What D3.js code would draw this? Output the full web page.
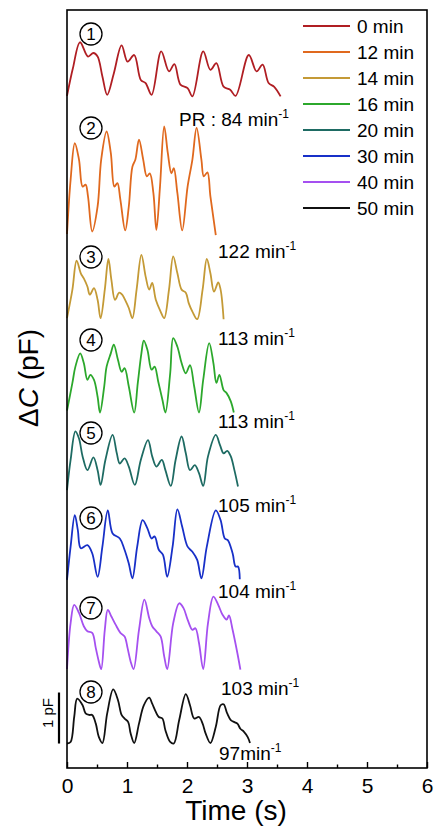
<!DOCTYPE html>
<html>
<head>
<meta charset="utf-8">
<script src="https://cdn.jsdelivr.net/npm/d3@7"></script>
<style>
  body { margin: 0; background: #fff; }
  text { font-family: Arial, "Liberation Sans", sans-serif; fill: #000; }
</style>
</head>
<body>
<svg id="chart" width="436" height="829"></svg>
<script>
// legend names + colours
var names = ["0 min", "12 min", "14 min", "16 min", "20 min", "30 min", "40 min", "50 min"];
var colors = ["#B01E23", "#E0691E", "#C49A36", "#2CA82C", "#1E6B63", "#1830C8", "#A550F0", "#111111"];
// vertical offset of every trace (pF)
var offsets = [13.18, 10.52, 8.82, 6.97, 5.53, 3.72, 1.94, 0.48];
var rates = ["PR : 84 min", "122 min", "113 min", "113 min", "105 min", "104 min", "103 min", "97min"];
var xTicks = [0, 1, 2, 3, 4, 5, 6];
var xMinor = [0.5, 1.5, 2.5, 3.5, 4.5, 5.5];

// traces, time (s) and deltaC (pF) above the trace baseline
var t1 = [0, 0.1, 0.217, 0.35, 0.44, 0.51, 0.59, 0.67, 0.78, 0.91, 1.01, 1.12, 1.23, 1.31, 1.41, 1.57, 1.70, 1.79, 1.89, 2.01, 2.09, 2.27, 2.39, 2.49, 2.61, 2.72, 2.81, 3.03, 3.16, 3.26, 3.36, 3.45, 3.56];
var v1 = [0, 0.55, 1.05, 0.77, 0.84, 0.77, 0.38, 0.02, 0.44, 0.99, 0.67, 0.80, 0.31, 0.25, 0.02, 0.87, 0.48, 0.62, 0.22, 0.15, -0.01, 0.87, 0.51, 0.64, 0.18, 0.12, 0, 0.80, 0.48, 0.61, 0.25, 0.18, -0.01];

var t2 = [0, 0.06, 0.13, 0.20, 0.26, 0.31, 0.35, 0.42, 0.51, 0.57, 0.66, 0.73, 0.79, 0.84, 0.89, 0.97, 1.03, 1.09, 1.14, 1.20, 1.27, 1.33, 1.38, 1.44, 1.49, 1.55, 1.62, 1.68, 1.74, 1.78, 1.84, 1.92, 2.01, 2.09, 2.16, 2.24, 2.28, 2.34, 2.39, 2.48];
var v2 = [-0.05, 1.01, 1.73, 1.41, 0.88, 0.92, 0.69, 0, 0.49, 1.41, 1.96, 1.54, 0.88, 0.95, 0.62, 0.02, 0.49, 1.27, 1.41, 1.80, 1.41, 1.08, 1.14, 0.75, 0.03, 0.88, 2.06, 1.54, 1.14, 1.24, 0.75, 0.02, 0.88, 1.41, 2.03, 1.41, 1.08, 1.16, 0.69, -0.07];

var t3 = [0, 0.09, 0.16, 0.23, 0.28, 0.34, 0.38, 0.45, 0.51, 0.56, 0.63, 0.69, 0.74, 0.80, 0.87, 0.92, 0.98, 1.03, 1.09, 1.16, 1.24, 1.31, 1.37, 1.42, 1.48, 1.56, 1.62, 1.70, 1.77, 1.84, 1.91, 1.98, 2.03, 2.09, 2.17, 2.26, 2.33, 2.39, 2.45, 2.52, 2.56, 2.61];
var v3 = [0, 0.56, 1.13, 0.88, 0.78, 0.62, 0.46, 0.59, 0.36, 0, 0.56, 1.16, 0.75, 0.36, 0.50, 0.46, 0.33, 0.20, 0, 0.56, 1.24, 0.82, 0.56, 0.69, 0.36, 0.13, 0, 0.56, 1.21, 0.88, 0.56, 0.50, 0.29, 0.13, -0.02, 0.56, 1.16, 0.88, 0.52, 0.70, 0.56, -0.02];

var t4 = [0, 0.09, 0.14, 0.22, 0.28, 0.34, 0.39, 0.45, 0.51, 0.55, 0.62, 0.66, 0.73, 0.78, 0.85, 0.91, 0.96, 1.03, 1.12, 1.18, 1.24, 1.28, 1.34, 1.41, 1.46, 1.52, 1.59, 1.64, 1.72, 1.77, 1.84, 1.91, 1.98, 2.05, 2.12, 2.20, 2.27, 2.37, 2.44, 2.49, 2.54, 2.61, 2.66, 2.73, 2.78];
var v4 = [0.04, 0.58, 0.90, 1.16, 0.97, 0.64, 0.74, 0.64, 0.31, 0, 0.51, 0.90, 1.16, 1.33, 1.03, 0.80, 0.87, 0.51, 0, 0.58, 1.16, 1.41, 1.23, 0.84, 0.90, 0.61, 0.25, 0, 0.77, 1.46, 1.29, 0.97, 0.77, 0.93, 0.51, 0, 0.64, 1.36, 0.97, 0.58, 0.74, 0.44, 0.38, 0.22, 0];

var t5 = [0, 0.06, 0.14, 0.20, 0.26, 0.34, 0.44, 0.51, 0.56, 0.64, 0.76, 0.83, 0.88, 0.96, 1.03, 1.13, 1.23, 1.35, 1.42, 1.49, 1.58, 1.64, 1.73, 1.81, 1.91, 1.98, 2.05, 2.13, 2.20, 2.27, 2.35, 2.48, 2.55, 2.61, 2.67, 2.73, 2.79, 2.85];
var v5 = [-0.08, 0.51, 1.07, 0.93, 0.58, 0.31, 0.56, 0.31, 0.02, 0.51, 1.00, 0.64, 0.44, 0.54, 0.38, 0.02, 0.51, 0.90, 0.58, 0.38, 0.51, 0.31, 0, 0.51, 0.97, 0.64, 0.31, 0.41, 0.25, 0, 0.58, 1.00, 0.80, 0.64, 0.69, 0.58, 0.31, -0.01];

var t6 = [0, 0.06, 0.13, 0.18, 0.23, 0.34, 0.42, 0.51, 0.59, 0.68, 0.76, 0.88, 0.95, 1.03, 1.09, 1.17, 1.26, 1.34, 1.41, 1.46, 1.53, 1.60, 1.67, 1.76, 1.84, 1.92, 2.01, 2.09, 2.17, 2.24, 2.33, 2.48, 2.56, 2.63, 2.68, 2.76, 2.81, 2.85, 2.88];
var v6 = [-0.03, 0.62, 1.24, 0.95, 0.59, 0.65, 0.49, 0.03, 0.62, 1.33, 0.88, 0.78, 0.59, 0.29, 0, 0.62, 1.14, 0.98, 0.78, 0.82, 0.56, 0.46, 0.03, 0.62, 1.35, 1.01, 0.62, 0.52, 0.36, 0, 0.62, 1.33, 1.14, 0.78, 0.75, 0.49, 0.23, 0.23, -0.02];

var t7 = [0, 0.06, 0.12, 0.20, 0.28, 0.34, 0.42, 0.48, 0.53, 0.57, 0.63, 0.68, 0.74, 0.81, 0.89, 0.96, 1.01, 1.06, 1.11, 1.20, 1.29, 1.37, 1.42, 1.49, 1.56, 1.62, 1.67, 1.77, 1.87, 1.94, 2.01, 2.09, 2.14, 2.20, 2.27, 2.35, 2.44, 2.52, 2.59, 2.66, 2.70, 2.76, 2.84, 2.89];
var v7 = [0, 0.90, 1.26, 1.10, 0.84, 0.74, 0.71, 0.41, 0.15, 0, 0.77, 1.16, 1.03, 0.87, 0.71, 0.64, 0.41, 0.15, 0, 0.77, 1.36, 1.00, 0.84, 0.74, 0.64, 0.25, 0, 0.90, 1.29, 1.20, 0.97, 0.77, 0.80, 0.51, 0, 0.90, 1.42, 1.26, 1.07, 0.97, 1.05, 0.77, 0.31, -0.01];

var t8 = [0, 0.06, 0.12, 0.17, 0.26, 0.31, 0.37, 0.42, 0.48, 0.53, 0.59, 0.67, 0.77, 0.85, 0.91, 0.96, 1.02, 1.06, 1.12, 1.20, 1.28, 1.37, 1.42, 1.48, 1.53, 1.59, 1.64, 1.72, 1.78, 1.87, 1.98, 2.05, 2.12, 2.20, 2.26, 2.31, 2.39, 2.48, 2.56, 2.61, 2.67, 2.73, 2.79, 2.84, 2.89, 2.95, 3.01, 3.05];
var v8 = [0, 0.03, 0.52, 0.88, 0.75, 0.59, 0.56, 0.56, 0.39, 0.13, 0.01, 0.59, 1.06, 0.85, 0.56, 0.49, 0.42, 0.20, 0.01, 0.39, 0.75, 0.90, 0.78, 0.62, 0.52, 0.49, 0.26, 0.03, 0, 0.46, 0.97, 0.75, 0.49, 0.52, 0.39, 0.20, 0.01, 0.33, 0.75, 0.77, 0.59, 0.46, 0.42, 0.39, 0.29, 0.23, 0.13, 0.01];

var times = [t1, t2, t3, t4, t5, t6, t7, t8];
var values = [v1, v2, v3, v4, v5, v6, v7, v8];

var svg = d3.select("#chart");
var plotL = 67, plotR = 427, plotT = 10, plotB = 768;

var x = d3.scaleLinear().domain([0, 6]).range([plotL, plotR]);
var y = d3.scaleLinear().domain([0, (plotB - plotT) / 51]).range([plotB, plotT]);

// traces
var line = d3.line()
  .x(function(d) { return x(d[0]); })
  .y(function(d) { return y(d[1]); })
  .curve(d3.curveCatmullRom.alpha(0.5));

for (var i = 0; i < names.length; i++) {
  var pts = [];
  for (var j = 0; j < times[i].length; j++) {
    pts.push([times[i][j], values[i][j] + offsets[i]]);
  }
  svg.append("path")
    .attr("d", line(pts))
    .attr("fill", "none")
    .attr("stroke", colors[i])
    .attr("stroke-width", 1.8)
    .attr("stroke-linejoin", "round");
}

// frame
svg.append("rect")
  .attr("x", plotL).attr("y", plotT)
  .attr("width", plotR - plotL).attr("height", plotB - plotT)
  .attr("fill", "none").attr("stroke", "#000").attr("stroke-width", 1.6);

// x axis, ticks pointing in
var gx = svg.append("g").attr("transform", "translate(0," + plotB + ")")
  .call(d3.axisBottom(x).tickValues(xTicks).tickSize(-6).tickPadding(10).tickFormat(d3.format("d")));
gx.select(".domain").remove();
gx.selectAll("line").attr("stroke-width", 1.4);
gx.selectAll("text").attr("font-size", 21).style("font-family", "Arial, 'Liberation Sans', sans-serif");

var gm = svg.append("g").attr("transform", "translate(0," + plotB + ")")
  .call(d3.axisBottom(x).tickValues(xMinor).tickSize(-3.5).tickFormat(""));
gm.select(".domain").remove();
gm.selectAll("line").attr("stroke-width", 1.4);

// axis titles
svg.append("text")
  .attr("x", 236).attr("y", 820)
  .attr("text-anchor", "middle")
  .attr("font-size", 28)
  .text("Time (s)");

var yl = svg.append("text")
  .attr("transform", "translate(38,378) rotate(-90)")
  .attr("text-anchor", "middle")
  .attr("font-size", 28);
yl.append("tspan").text("\u0394");
yl.append("tspan").attr("font-style", "italic").text("C");
yl.append("tspan").text(" (pF)");

// 1 pF scale bar
svg.append("line")
  .attr("x1", 59).attr("x2", 59)
  .attr("y1", y(offsets[7])).attr("y2", y(offsets[7] + 1))
  .attr("stroke", "#000").attr("stroke-width", 2.2);
svg.append("text")
  .attr("transform", "translate(53,713) rotate(-90)")
  .attr("text-anchor", "middle")
  .attr("font-size", 15)
  .text("1 pF");

// circled numbers
var circleY = [34, 128, 257, 340, 433, 518, 608, 692];
circleY.forEach(function(cy, i) {
  svg.append("circle")
    .attr("cx", 91).attr("cy", cy).attr("r", 11)
    .attr("fill", "none").attr("stroke", "#000").attr("stroke-width", 1.3);
  svg.append("text")
    .attr("x", 91).attr("y", cy + 6)
    .attr("text-anchor", "middle")
    .attr("font-size", 17)
    .text(i + 1);
});

// pulse-rate labels
var rateX = [179, 218, 218, 218, 218, 218, 221, 219];
var rateY = [126, 258, 345, 428, 512, 598, 695, 760];
rates.forEach(function(r, i) {
  var t = svg.append("text")
    .attr("x", rateX[i]).attr("y", rateY[i])
    .attr("font-size", 19);
  t.append("tspan").text(r);
  t.append("tspan").attr("font-size", 12).attr("dy", -8).text("-1");
});

// legend
names.forEach(function(n, i) {
  var ly = 26 + i * 26;
  svg.append("line")
    .attr("x1", 303).attr("x2", 350)
    .attr("y1", ly).attr("y2", ly)
    .attr("stroke", colors[i]).attr("stroke-width", 1.8);
  svg.append("text")
    .attr("x", 357).attr("y", ly + 7)
    .attr("font-size", 19)
    .text(n);
});
</script>
</body>
</html>
